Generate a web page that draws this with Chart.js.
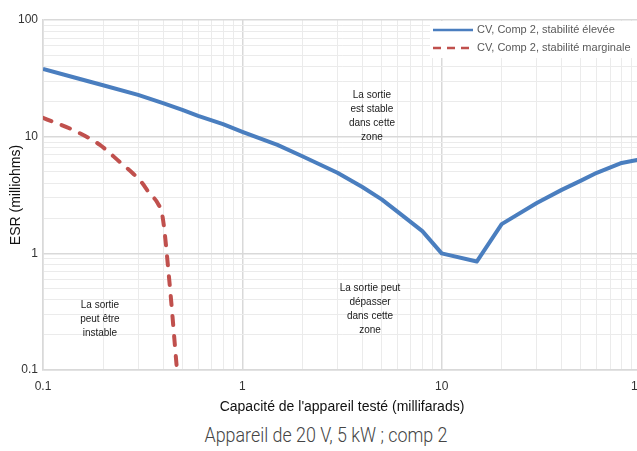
<!DOCTYPE html>
<html><head><meta charset="utf-8">
<script src="https://cdn.jsdelivr.net/npm/chart.js@4"></script>
<style>
html,body{margin:0;padding:0;background:#fff;overflow:hidden;width:637px;height:451px;}
#wrap{position:absolute;left:0;top:0;width:660px;height:420px;}
#caption{position:absolute;top:423px;left:326px;white-space:nowrap;font-family:Roboto;font-weight:300;font-size:21px;line-height:normal;color:#444;transform-origin:center top;}
</style></head><body>
<div id="wrap"><canvas id="c" width="660" height="420"></canvas></div>
<div id="caption">Appareil de 20 V, 5 kW ; comp 2</div>
<script>
// ---- data ----
const highX = [0.1, 0.15, 0.2, 0.3, 0.4, 0.5, 0.6, 0.8, 1, 1.5, 2, 3, 4, 5, 6, 8, 10, 15, 20, 30, 40, 50, 60, 80, 100];
const highY = [38, 31.5, 27.6, 22.8, 19.4, 17, 15.1, 12.8, 11, 8.5, 6.8, 4.9, 3.7, 2.9, 2.28, 1.55, 1.0, 0.85, 1.78, 2.7, 3.5, 4.2, 4.9, 5.95, 6.4];
const margX = [0.1, 0.145, 0.193, 0.242, 0.282, 0.311, 0.342, 0.376, 0.398, 0.43, 0.47];
const margY = [14.5, 11.2, 8.5, 6.1, 4.86, 4.1, 3.27, 2.69, 2.06, 0.59, 0.1];
const seriesNames = ['CV, Comp 2, stabilité élevée', 'CV, Comp 2, stabilité marginale'];
const xDecades = [0.1, 1, 10, 100];
const xDecadeLabels = ['0.1', '1', '10', '100'];
const yDecades = [0.1, 1, 10, 100];
const yDecadeLabels = ['0.1', '1', '10', '100'];
const xTitle = "Capacité de l'appareil testé (millifarads)";
const yTitle = 'ESR (milliohms)';
const notes = [
  {x: 4.47, y: 15, lines: ['La sortie', 'est stable', 'dans cette', 'zone']},
  {x: 4.37, y: 0.33, lines: ['La sortie peut', 'dépasser', 'dans cette', 'zone']},
  {x: 0.193, y: 0.27, lines: ['La sortie', 'peut être', 'instable']}
];

// ---- helpers ----
function minorTicks(decs){
  const out=[];
  for(let i=0;i<decs.length;i++){
    const d=decs[i];
    if(i===decs.length-1){out.push(d);break;}
    for(let m=1;m<=9;m++) out.push(+(d*m).toPrecision(6));
  }
  return out;
}
const xTickVals = minorTicks(xDecades);
const yTickVals = minorTicks(yDecades);
function decIdx(list,v){return list.findIndex(d=>Math.abs(Math.log10(d)-Math.log10(v))<1e-6);}

const BLUE='#4A7EBF', RED='#C0504D';
const FONT='Liberation Sans';

const legendPlugin={
  id:'customLegend',
  afterDraw(chart){
    const c=chart.ctx;
    c.save();
    c.fillStyle='#fff';
    c.fillRect(430,21,240,37);
    c.lineWidth=2.5;
    c.strokeStyle=BLUE; c.setLineDash([]);
    c.beginPath(); c.moveTo(433,30); c.lineTo(473,30); c.stroke();
    c.strokeStyle=RED; c.setLineDash([8,6]);
    c.beginPath(); c.moveTo(433,48); c.lineTo(473,48); c.stroke();
    c.setLineDash([]);
    c.fillStyle='#595959';
    c.font='11px "'+FONT+'"';
    c.textBaseline='middle'; c.textAlign='left';
    c.fillText(seriesNames[0],477,30);
    c.fillText(seriesNames[1],477,48);
    c.restore();
  }
};
const notesPlugin={
  id:'notes',
  afterDatasetsDraw(chart){
    const c=chart.ctx, xs=chart.scales.x, ys=chart.scales.y;
    c.save();
    c.fillStyle='#1a1a1a';
    c.font='10px "'+FONT+'"';
    c.textAlign='center'; c.textBaseline='middle';
    const lh=14;
    notes.forEach(n=>{
      const px=xs.getPixelForValue(n.x), py=ys.getPixelForValue(n.y);
      const top=py-(n.lines.length-1)*lh/2;
      n.lines.forEach((t,i)=>c.fillText(t,px,top+i*lh));
    });
    c.restore();
  }
};

new Chart(document.getElementById('c'),{
  type:'line',
  data:{datasets:[
    {label:seriesNames[0],data:highX.map((x,i)=>({x,y:highY[i]})),borderColor:BLUE,borderWidth:4,pointRadius:0,tension:0,fill:false,borderJoinStyle:'round'},
    {label:seriesNames[1],data:margX.map((x,i)=>({x,y:margY[i]})),borderColor:RED,borderWidth:4,pointRadius:0,cubicInterpolationMode:'monotone',borderDash:[9,11],borderCapStyle:'round',fill:false}
  ]},
  options:{
    responsive:false,animation:false,
    layout:{padding:{top:20,right:14,left:0,bottom:0}},
    plugins:{legend:{display:false},tooltip:{enabled:false}},
    scales:{
      x:{type:'logarithmic',min:0.1,max:100,
        afterBuildTicks:s=>{s.ticks=xTickVals.map(v=>({value:v}));},
        afterFit:s=>{s.height=50;},
        ticks:{autoSkip:false,maxRotation:0,padding:9,color:'#333',font:{family:FONT,size:12},
          callback:v=>{const i=decIdx(xDecades,v);return i>=0?xDecadeLabels[i]:'';}},
        grid:{drawTicks:false,color:ctx=>decIdx(xDecades,ctx.tick.value)>=0?'#d9d9d9':'#ebebeb',lineWidth:ctx=>decIdx(xDecades,ctx.tick.value)>=0?1.5:1},
        border:{color:'#d9d9d9',width:1.5},
        title:{display:true,text:xTitle,color:'#111',font:{family:FONT,size:14},padding:{top:0,bottom:4}}
      },
      y:{type:'logarithmic',min:0.1,max:100,
        afterBuildTicks:s=>{s.ticks=yTickVals.map(v=>({value:v}));},
        afterFit:s=>{s.width=43;},
        ticks:{autoSkip:false,padding:5,color:'#333',font:{family:FONT,size:12},
          callback:v=>{const i=decIdx(yDecades,v);return i>=0?yDecadeLabels[i]:'';}},
        grid:{drawTicks:false,color:ctx=>decIdx(yDecades,ctx.tick.value)>=0?'#d9d9d9':'#ebebeb',lineWidth:ctx=>decIdx(yDecades,ctx.tick.value)>=0?1.5:1},
        border:{color:'#d9d9d9',width:1.5},
        title:{display:true,text:yTitle,color:'#111',font:{family:FONT,size:14},padding:{top:8,bottom:0}}
      }
    }
  },
  plugins:[notesPlugin,legendPlugin]
});

// caption condensed to match reference width
const cap=document.getElementById('caption');
const w=cap.getBoundingClientRect().width;
cap.style.transform='translateX(-50%) scaleX('+(243/w)+')';
</script>
</body></html>
